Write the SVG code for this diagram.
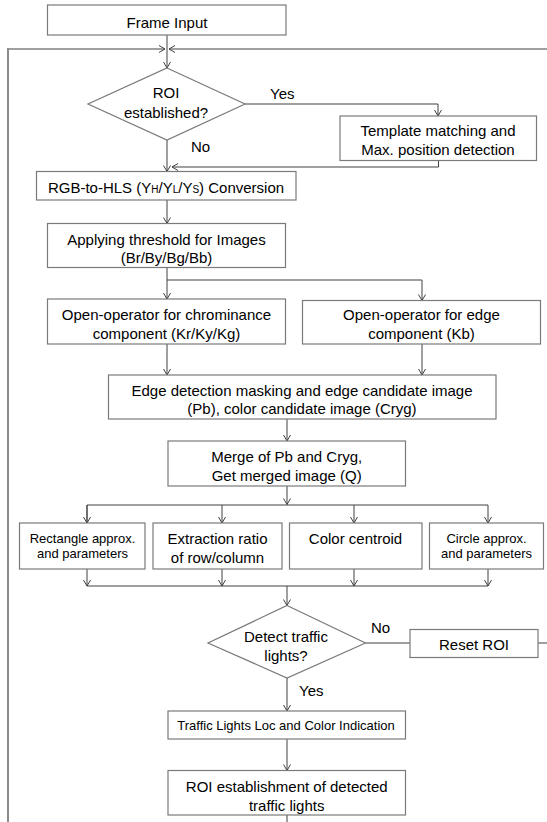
<svg xmlns="http://www.w3.org/2000/svg" width="547" height="822" viewBox="0 0 547 822">
<defs>
<style>
.box{fill:#fff;stroke:#7a7a7a;stroke-width:1.2}
.ln{fill:none;stroke:#404040;stroke-width:1}
.t{font-family:"Liberation Sans",Arial,sans-serif;font-size:15px;fill:#000;text-anchor:middle}
.s{font-size:13px}
.l{text-anchor:start}
</style>
<marker id="arr" viewBox="-8 -5 9 10" refX="0" refY="0" markerWidth="9" markerHeight="10" markerUnits="userSpaceOnUse" orient="auto">
<path d="M-6,-3.5 L0,0 L-6,3.5" fill="none" stroke="#404040" stroke-width="1"/>
</marker>
</defs>
<rect width="547" height="822" fill="#fff"/>

<g id="connectors">
<path class="ln" d="M8,49 H165" marker-end="url(#arr)"/>
<path d="M8,830 V48" fill="none" stroke="#8c8c8c" stroke-width="2"/>
<path class="ln" d="M538,643 H548 V49 H169" marker-end="url(#arr)"/>
<path class="ln" d="M167,35 V68" marker-end="url(#arr)"/>
<path class="ln" d="M245,104 H438 V116" marker-end="url(#arr)"/>
<path class="ln" d="M438.5,160.5 V167 H172" marker-end="url(#arr)"/>
<path class="ln" d="M167,140 V171.5" marker-end="url(#arr)"/>
<path class="ln" d="M167,200 V223.5" marker-end="url(#arr)"/>
<path class="ln" d="M167,267.5 V299" marker-end="url(#arr)"/>
<path class="ln" d="M167,280 H422 V300.5" marker-end="url(#arr)"/>
<path class="ln" d="M167,344 V375" marker-end="url(#arr)"/>
<path class="ln" d="M422,344 V375" marker-end="url(#arr)"/>
<path class="ln" d="M287,419 V441" marker-end="url(#arr)"/>
<path class="ln" d="M287,486 V504.5" marker-end="url(#arr)"/>
<path class="ln" d="M87,523 V505 H488 V523" marker-end="url(#arr)"/>
<path class="ln" d="M87,505 V523" marker-end="url(#arr)"/>
<path class="ln" d="M222,505 V523" marker-end="url(#arr)"/>
<path class="ln" d="M354,505 V523" marker-end="url(#arr)"/>
<path class="ln" d="M87,569 V586" marker-end="url(#arr)"/>
<path class="ln" d="M222,569 V586" marker-end="url(#arr)"/>
<path class="ln" d="M354,569 V586" marker-end="url(#arr)"/>
<path class="ln" d="M488,569 V586" marker-end="url(#arr)"/>
<path class="ln" d="M87,586 H488"/>
<path class="ln" d="M287,586 V605.5" marker-end="url(#arr)"/>
<path class="ln" d="M365.5,643 H410"/>
<path class="ln" d="M287,678 V711" marker-end="url(#arr)"/>
<path class="ln" d="M287,739 V770.5" marker-end="url(#arr)"/>
<path class="ln" d="M287,815 V830"/>
<text class="t l" x="270" y="99">Yes</text>
<text class="t l" x="191" y="152">No</text>
<text class="t l" x="371" y="633">No</text>
<text class="t l" x="299" y="696">Yes</text>
</g>

<g id="frame-input">
<rect class="box" x="47.5" y="5" width="238.5" height="30"/>
<text class="t" x="167" y="27.5">Frame Input</text>
</g>

<g id="roi-decision">
<polygon class="box" points="167,68 245,104 167,140 88,104"/>
<text class="t" x="166" y="98">ROI</text>
<text class="t" x="166" y="117.5">established?</text>
</g>

<g id="template">
<rect class="box" x="340" y="116" width="196.5" height="44.5"/>
<text class="t" x="438" y="135.5">Template matching and</text>
<text class="t" x="438" y="154.5">Max. position detection</text>
</g>

<g id="rgb-hls">
<rect class="box" x="36.5" y="171.5" width="259.5" height="28.5"/>
<text class="t" x="166" y="192.5">RGB-to-HLS (Y<tspan font-size="10">H</tspan>/Y<tspan font-size="10">L</tspan>/Y<tspan font-size="10">S</tspan>) Conversion</text>
</g>

<g id="threshold">
<rect class="box" x="47.5" y="223.5" width="238" height="44"/>
<text class="t" x="166.5" y="244.5">Applying threshold for Images</text>
<text class="t" x="166.5" y="262.5">(Br/By/Bg/Bb)</text>
</g>

<g id="open-chroma">
<rect class="box" x="47.5" y="299" width="238" height="45"/>
<text class="t" x="166.5" y="319.5">Open-operator for chrominance</text>
<text class="t" x="166.5" y="339">component (Kr/Ky/Kg)</text>
</g>

<g id="open-edge">
<rect class="box" x="302.5" y="300.5" width="238" height="43.5"/>
<text class="t" x="421.5" y="319.5">Open-operator for edge</text>
<text class="t" x="421.5" y="339">component (Kb)</text>
</g>

<g id="edge-detection">
<rect class="box" x="108.5" y="375" width="387.5" height="44"/>
<text class="t" x="302" y="395.5">Edge detection masking and edge candidate image</text>
<text class="t" x="302" y="414">(Pb), color candidate image (Cryg)</text>
</g>

<g id="merge">
<rect class="box" x="168" y="441" width="237.5" height="45"/>
<text class="t" x="286.7" y="461.5">Merge of Pb and Cryg,</text>
<text class="t" x="286.7" y="480.5">Get merged image (Q)</text>
</g>

<g id="rect-approx">
<rect class="box" x="19.5" y="523" width="125.5" height="46"/>
<text class="t s" x="82.5" y="542.5">Rectangle approx.</text>
<text class="t s" x="82.5" y="558">and parameters</text>
</g>

<g id="extraction-ratio">
<rect class="box" x="153" y="523" width="129" height="46"/>
<text class="t" x="217.5" y="544">Extraction ratio</text>
<text class="t" x="217.5" y="563">of row/column</text>
</g>

<g id="color-centroid">
<rect class="box" x="289.5" y="523" width="132.5" height="46"/>
<text class="t" x="355.5" y="544">Color centroid</text>
</g>

<g id="circle-approx">
<rect class="box" x="429.5" y="523" width="114" height="46"/>
<text class="t s" x="486.5" y="542.5">Circle approx.</text>
<text class="t s" x="486.5" y="558">and parameters</text>
</g>

<g id="detect-decision">
<polygon class="box" points="287,605.5 365.5,643 287,678 208,643"/>
<text class="t" x="286" y="642">Detect traffic</text>
<text class="t" x="286" y="660.5">lights?</text>
</g>

<g id="reset-roi">
<rect class="box" x="410" y="629.5" width="128" height="28"/>
<text class="t" x="474" y="649.5">Reset ROI</text>
</g>

<g id="traffic-loc">
<rect class="box" x="168" y="711" width="237.5" height="28"/>
<text class="t s" x="286" y="729.5">Traffic Lights Loc and Color Indication</text>
</g>

<g id="roi-establish">
<rect class="box" x="168" y="770.5" width="237.5" height="44.5"/>
<text class="t" x="286.7" y="792">ROI establishment of detected</text>
<text class="t" x="286.7" y="811">traffic lights</text>
</g>
</svg>
